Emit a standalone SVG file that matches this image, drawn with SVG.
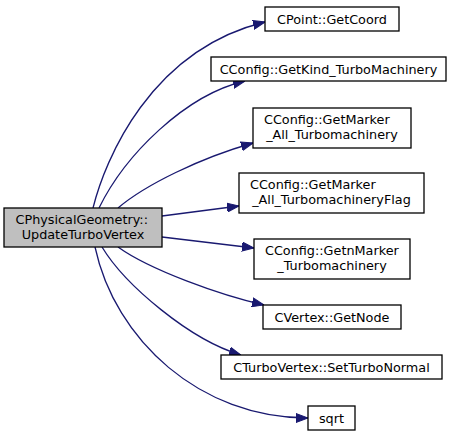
<svg xmlns="http://www.w3.org/2000/svg" width="459" height="437" viewBox="0 0 459 437">
<style>
.box{fill:#ffffff;stroke:#000000;stroke-width:1.3}
.main{fill:#bfbfbf;stroke:#000000;stroke-width:1.3}
.t{font-family:"DejaVu Sans","Liberation Sans",sans-serif;font-size:12.8px;fill:#000000}
.c{text-anchor:middle}
.e{fill:none;stroke:#191970;stroke-width:1.3;marker-end:url(#ah)}
</style>
<defs>
<marker id="ah" markerWidth="12" markerHeight="10" refX="12" refY="5" orient="auto" markerUnits="userSpaceOnUse">
<path d="M0,0.5 L12,5 L0,9.5 Z" fill="#191970" stroke="#191970" stroke-width="1"/>
</marker>
</defs>
<rect width="459" height="437" fill="#ffffff"/>
<g id="connectors">
<path class="e" d="M93,208 C105,160 150,50 265,22"/>
<path class="e" d="M99,208 C125,155 185,95 245,81"/>
<path class="e" d="M118,208 C145,185 200,158 253,143"/>
<path class="e" d="M162,216 L239,206"/>
<path class="e" d="M162,237 L254,248"/>
<path class="e" d="M118,247 C150,270 220,295 264,305"/>
<path class="e" d="M102,247 C125,285 190,340 241,355"/>
<path class="e" d="M95,247 C115,340 200,418 308,418"/>
</g>
<g id="node_main">
<rect class="main" x="4" y="208" width="158" height="39"/>
<text class="t" x="15.5" y="223.5">CPhysicalGeometry::</text>
<text class="t c" x="83" y="238.5">UpdateTurboVertex</text>
</g>
<g id="node_getcoord">
<rect class="box" x="265" y="7" width="134" height="24"/>
<text class="t c" x="332" y="23.5">CPoint::GetCoord</text>
</g>
<g id="node_getkind">
<rect class="box" x="211" y="57" width="235" height="24"/>
<text class="t c" x="328.5" y="73.5">CConfig::GetKind_TurboMachinery</text>
</g>
<g id="node_getmarker_all">
<rect class="box" x="253" y="108" width="158" height="40"/>
<text class="t" x="264" y="124">CConfig::GetMarker</text>
<text class="t c" x="332" y="139">_All_Turbomachinery</text>
</g>
<g id="node_getmarker_flag">
<rect class="box" x="239" y="173" width="185" height="40"/>
<text class="t" x="250" y="189">CConfig::GetMarker</text>
<text class="t c" x="331.5" y="204">_All_TurbomachineryFlag</text>
</g>
<g id="node_getnmarker">
<rect class="box" x="254" y="239" width="156" height="40"/>
<text class="t" x="265" y="255">CConfig::GetnMarker</text>
<text class="t c" x="332" y="270">_Turbomachinery</text>
</g>
<g id="node_getnode">
<rect class="box" x="263" y="305" width="138" height="24"/>
<text class="t c" x="332" y="321.5">CVertex::GetNode</text>
</g>
<g id="node_setturbonormal">
<rect class="box" x="221" y="355" width="221" height="24"/>
<text class="t c" x="331.5" y="371.5">CTurboVertex::SetTurboNormal</text>
</g>
<g id="node_sqrt">
<rect class="box" x="308" y="406" width="47" height="24"/>
<text class="t c" x="331.5" y="422.5">sqrt</text>
</g>
</svg>
